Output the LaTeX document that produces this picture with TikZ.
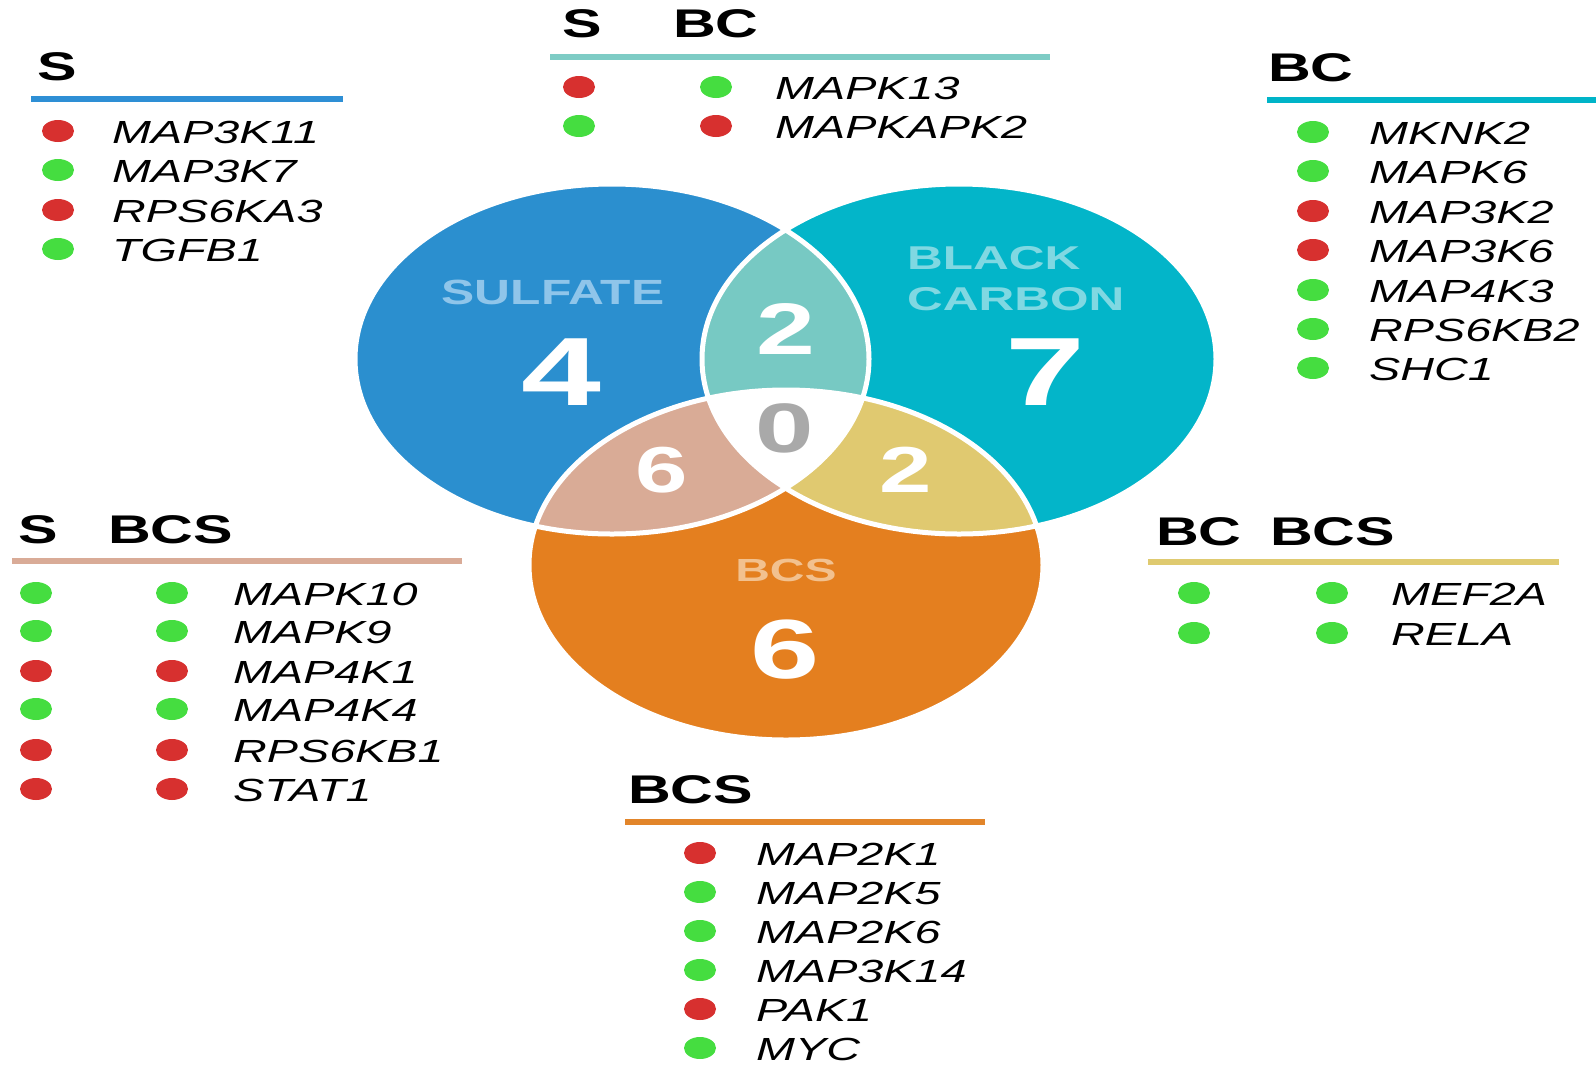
\documentclass[tikz,border=0pt]{standalone}
\usepackage{fontspec}
\usepackage{graphicx}
\usetikzlibrary{shapes.geometric}
\newfontfamily\lsans{Liberation Sans}
\definecolor{cS}{HTML}{2B8FCF}
\definecolor{cB}{HTML}{03B5C9}
\definecolor{cO}{HTML}{E47F1F}
\definecolor{cSB}{HTML}{77C9C3}
\definecolor{cSO}{HTML}{D9AB96}
\definecolor{cBO}{HTML}{E0C970}
\definecolor{cZero}{HTML}{A9A9A9}
\definecolor{tS}{HTML}{8FC5EA}
\definecolor{tB}{HTML}{80D8E2}
\definecolor{tO}{HTML}{F2C18F}
\definecolor{cRed}{HTML}{D7302F}
\definecolor{cGreen}{HTML}{45DD40}
\definecolor{lS}{HTML}{2E8FD5}
\definecolor{lSB}{HTML}{7ECCC5}
\definecolor{lB}{HTML}{00B4C8}
\definecolor{lSO}{HTML}{D9AB97}
\definecolor{lBO}{HTML}{DFCA70}
\definecolor{lO}{HTML}{E2852A}
\newcommand\sxx[2]{\scalebox{#1}[1]{#2}}
\newcommand\genefont{\lsans\itshape\fontsize{32}{32}\selectfont}
\newcommand\hdrfont{\lsans\bfseries\fontsize{40}{40}\selectfont}
\def\Sel{(612,359) ellipse [x radius=257pt, y radius=175pt]}
\def\Bel{(959,359) ellipse [x radius=257pt, y radius=175pt]}
\def\Oel{(786,565) ellipse [x radius=257pt, y radius=175pt]}
\tikzset{
  gene/.style={anchor=west, inner sep=0pt, font=\genefont, yshift=-1.5pt},
  hdr/.style={anchor=west, inner sep=0pt, font=\hdrfont},
  rdot/.style={ellipse, fill=cRed, minimum width=32pt, minimum height=22pt, inner sep=0pt},
  gdot/.style={ellipse, fill=cGreen, minimum width=32pt, minimum height=22pt, inner sep=0pt},
  rule/.style={line width=6pt},
  num/.style={inner sep=0pt, text=white},
  lbl/.style={inner sep=0pt},
}
\begin{document}
\begin{tikzpicture}[x=1pt,y=-1pt]
\useasboundingbox (0,0) rectangle (1596,1066);
\fill[white] (0,0) rectangle (1596,1066);
% Venn regions
\fill[cS] \Sel;
\fill[cB] \Bel;
\fill[cO] \Oel;
\begin{scope}\clip \Sel; \fill[cSB] \Bel; \end{scope}
\begin{scope}\clip \Sel; \fill[cSO] \Oel; \end{scope}
\begin{scope}\clip \Bel; \fill[cBO] \Oel; \end{scope}
\begin{scope}\clip \Sel; \clip \Bel; \fill[white] \Oel; \end{scope}
\draw[white, line width=5pt] \Sel \Bel \Oel;
% Venn labels
\node[lbl, text=tS, font=\lsans\bfseries\fontsize{35}{35}\selectfont] (lSul) at (553,292) {\sxx{1.42}{SULFATE}};
\node[lbl, anchor=west, text=tB, font=\lsans\bfseries\fontsize{33}{33}\selectfont] (lBlack) at (907,258) {\sxx{1.5}{BLACK}};
\node[lbl, anchor=west, text=tB, font=\lsans\bfseries\fontsize{33}{33}\selectfont] (lCarbon) at (907,299) {\sxx{1.5}{CARBON}};
\node[lbl, text=tO, font=\lsans\bfseries\fontsize{32}{32}\selectfont] (lBCS) at (786,570) {\sxx{1.5}{BCS}};
\node[num, font=\lsans\bfseries\fontsize{97}{97}\selectfont] (n4) at (561,372) {\sxx{1.48}{4}};
\node[num, font=\lsans\bfseries\fontsize{97}{97}\selectfont] (n7) at (1045,372) {\sxx{1.48}{7}};
\node[num, font=\lsans\bfseries\fontsize{73}{73}\selectfont] (n2a) at (786,329) {\sxx{1.45}{2}};
\node[num, text=cZero, font=\lsans\bfseries\fontsize{70}{70}\selectfont] (n0) at (785,428) {\sxx{1.5}{0}};
\node[num, font=\lsans\bfseries\fontsize{65}{65}\selectfont] (n6a) at (662,470) {\sxx{1.45}{6}};
\node[num, font=\lsans\bfseries\fontsize{65}{65}\selectfont] (n2b) at (906,470) {\sxx{1.45}{2}};
\node[num, font=\lsans\bfseries\fontsize{84}{84}\selectfont] (n6b) at (785,650) {\sxx{1.48}{6}};
% ---- S block
\node[hdr] (hS) at (37,67) {\sxx{1.48}{S}};
\coordinate (rS1) at (31,99); \coordinate (rS2) at (343,99);
\draw[rule, lS] (rS1) -- (rS2);
\node[rdot] (dS1) at (58,131) {}; \node[gene] (gS1) at (112,131) {\sxx{1.46}{MAP3K11}};
\node[gdot] (dS2) at (58,170) {}; \node[gene] (gS2) at (112,170) {\sxx{1.46}{MAP3K7}};
\node[rdot] (dS3) at (58,210) {}; \node[gene] (gS3) at (112,210) {\sxx{1.46}{RPS6KA3}};
\node[gdot] (dS4) at (58,249) {}; \node[gene] (gS4) at (112,249) {\sxx{1.46}{TGFB1}};
% ---- S BC block
\node[hdr] (hSBa) at (562,24) {\sxx{1.48}{S}};
\node[hdr] (hSBb) at (673,24) {\sxx{1.48}{BC}};
\coordinate (rSB1) at (550,57); \coordinate (rSB2) at (1050,57);
\draw[rule, lSB] (rSB1) -- (rSB2);
\node[rdot] (dSB1a) at (579,87) {}; \node[gdot] (dSB1b) at (716,87) {}; \node[gene] (gSB1) at (775,87) {\sxx{1.46}{MAPK13}};
\node[gdot] (dSB2a) at (579,126) {}; \node[rdot] (dSB2b) at (716,126) {}; \node[gene] (gSB2) at (775,126) {\sxx{1.46}{MAPKAPK2}};
% ---- BC block
\node[hdr] (hB) at (1268,68) {\sxx{1.48}{BC}};
\coordinate (rB1) at (1267,100); \coordinate (rB2) at (1596,100);
\draw[rule, lB] (rB1) -- (rB2);
\node[gdot] (dB1) at (1313,132) {}; \node[gene] (gB1) at (1369,132) {\sxx{1.46}{MKNK2}};
\node[gdot] (dB2) at (1313,171) {}; \node[gene] (gB2) at (1369,171) {\sxx{1.46}{MAPK6}};
\node[rdot] (dB3) at (1313,211) {}; \node[gene] (gB3) at (1369,211) {\sxx{1.46}{MAP3K2}};
\node[rdot] (dB4) at (1313,250) {}; \node[gene] (gB4) at (1369,250) {\sxx{1.46}{MAP3K6}};
\node[gdot] (dB5) at (1313,290) {}; \node[gene] (gB5) at (1369,290) {\sxx{1.46}{MAP4K3}};
\node[gdot] (dB6) at (1313,329) {}; \node[gene] (gB6) at (1369,329) {\sxx{1.46}{RPS6KB2}};
\node[gdot] (dB7) at (1313,368) {}; \node[gene] (gB7) at (1369,368) {\sxx{1.46}{SHC1}};
% ---- S BCS block
\node[hdr] (hSOa) at (18,530) {\sxx{1.48}{S}};
\node[hdr] (hSOb) at (108,530) {\sxx{1.48}{BCS}};
\coordinate (rSO1) at (12,561); \coordinate (rSO2) at (462,561);
\draw[rule, lSO] (rSO1) -- (rSO2);
\node[gdot] (dSO1a) at (36,593) {}; \node[gdot] (dSO1b) at (172,593) {}; \node[gene] (gSO1) at (233,593) {\sxx{1.46}{MAPK10}};
\node[gdot] (dSO2a) at (36,631) {}; \node[gdot] (dSO2b) at (172,631) {}; \node[gene] (gSO2) at (233,631) {\sxx{1.46}{MAPK9}};
\node[rdot] (dSO3a) at (36,671) {}; \node[rdot] (dSO3b) at (172,671) {}; \node[gene] (gSO3) at (233,671) {\sxx{1.46}{MAP4K1}};
\node[gdot] (dSO4a) at (36,709) {}; \node[gdot] (dSO4b) at (172,709) {}; \node[gene] (gSO4) at (233,709) {\sxx{1.46}{MAP4K4}};
\node[rdot] (dSO5a) at (36,750) {}; \node[rdot] (dSO5b) at (172,750) {}; \node[gene] (gSO5) at (233,750) {\sxx{1.46}{RPS6KB1}};
\node[rdot] (dSO6a) at (36,789) {}; \node[rdot] (dSO6b) at (172,789) {}; \node[gene] (gSO6) at (233,789) {\sxx{1.46}{STAT1}};
% ---- BC BCS block
\node[hdr] (hBOa) at (1156,532) {\sxx{1.48}{BC}};
\node[hdr] (hBOb) at (1270,532) {\sxx{1.48}{BCS}};
\coordinate (rBO1) at (1148,562); \coordinate (rBO2) at (1559,562);
\draw[rule, lBO] (rBO1) -- (rBO2);
\node[gdot] (dBO1a) at (1194,593) {}; \node[gdot] (dBO1b) at (1332,593) {}; \node[gene] (gBO1) at (1391,593) {\sxx{1.46}{MEF2A}};
\node[gdot] (dBO2a) at (1194,633) {}; \node[gdot] (dBO2b) at (1332,633) {}; \node[gene] (gBO2) at (1391,633) {\sxx{1.46}{RELA}};
% ---- BCS block
\node[hdr] (hO) at (628,790) {\sxx{1.48}{BCS}};
\coordinate (rO1) at (625,822); \coordinate (rO2) at (985,822);
\draw[rule, lO] (rO1) -- (rO2);
\node[rdot] (dO1) at (700,853) {}; \node[gene] (gO1) at (756,853) {\sxx{1.46}{MAP2K1}};
\node[gdot] (dO2) at (700,892) {}; \node[gene] (gO2) at (756,892) {\sxx{1.46}{MAP2K5}};
\node[gdot] (dO3) at (700,931) {}; \node[gene] (gO3) at (756,931) {\sxx{1.46}{MAP2K6}};
\node[gdot] (dO4) at (700,970) {}; \node[gene] (gO4) at (756,970) {\sxx{1.46}{MAP3K14}};
\node[rdot] (dO5) at (700,1009) {}; \node[gene] (gO5) at (756,1009) {\sxx{1.46}{PAK1}};
\node[gdot] (dO6) at (700,1048) {}; \node[gene] (gO6) at (756,1048) {\sxx{1.46}{MYC}};
\end{tikzpicture}
\end{document}
